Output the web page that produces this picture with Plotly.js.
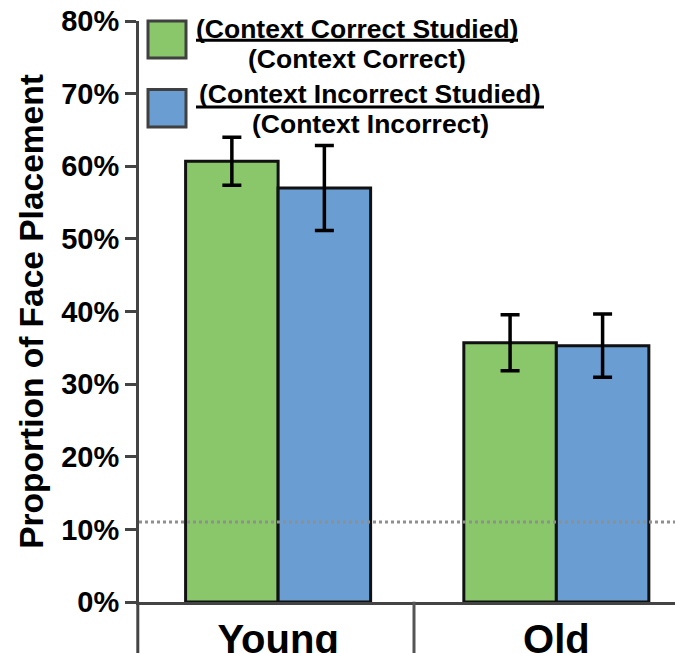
<!DOCTYPE html>
<html>
<head>
<meta charset="utf-8">
<script src="https://cdn.plot.ly/plotly-3.0.1.min.js"></script>
<style>
  html, body { margin: 0; padding: 0; background: #fff; overflow: hidden; }
  #chart { width: 675px; height: 653px; }
</style>
</head>
<body>
<div id="chart"></div>
<script>
// Age groups on the x axis
const categories = ['Young', 'Old'];

// Proportion of face placement per condition, with error bar half-widths
const correctValues = [0.607, 0.357];
const correctErrors = [0.033, 0.0385];
const incorrectValues = [0.570, 0.353];
const incorrectErrors = [0.0585, 0.0435];

// Chance level reference line
const chanceLevel = 0.11;

// Y axis ticks
const yTickValues = [0, 0.1, 0.2, 0.3, 0.4, 0.5, 0.6, 0.7, 0.8];

// Legend labels, drawn as a fraction (numerator over denominator)
const legendNumerators = ['(Context Correct Studied)', '(Context Incorrect Studied)'];
const legendDenominators = ['(Context Correct)', '(Context Incorrect)'];

const GREEN = '#89C76A';
const BLUE = '#6A9DD1';
const AXIS = '#444444';
const FONT = 'Liberation Sans, Arial, Helvetica, sans-serif';

// Figure geometry (pixels)
const W = 675, H = 653;
const M = { l: 139, r: 0, t: 20.7, b: 50.7 };
const px = p => (p - M.l) / (W - M.l - M.r);        // pixel x -> paper x
const py = p => (H - M.b - p) / (H - M.t - M.b);    // pixel y -> paper y

const traces = [
  {
    type: 'bar', x: categories, y: correctValues, name: legendDenominators[0],
    marker: { color: GREEN, line: { color: '#111', width: 3 } },
    error_y: { type: 'data', array: correctErrors, visible: true, color: '#000', thickness: 3.5, width: 9.5 }
  },
  {
    type: 'bar', x: categories, y: incorrectValues, name: legendDenominators[1],
    marker: { color: BLUE, line: { color: '#111', width: 3 } },
    error_y: { type: 'data', array: incorrectErrors, visible: true, color: '#000', thickness: 3.5, width: 9.5 }
  }
];

// Custom fraction-style legend
const legendItems = [
  { color: GREEN, box: [20.7, 57.7], center: 357, num: 28.3, den: 59, under: 40, underX: [196, 518] },
  { color: BLUE, box: [89.3, 126.7], center: 370, num: 93.3, den: 124, under: 106.7, underX: [196, 544] }
];

const shapes = [
  // chance level
  { type: 'line', xref: 'paper', yref: 'y', x0: 0, x1: 1, y0: chanceLevel, y1: chanceLevel,
    line: { color: '#8f8f8f', width: 3, dash: 'dot' }, layer: 'above' },
  // category dividers below the x axis
  { type: 'line', xref: 'paper', yref: 'paper', x0: px(137.8), x1: px(137.8), y0: py(602), y1: py(660),
    line: { color: AXIS, width: 3 } },
  { type: 'line', xref: 'paper', yref: 'paper', x0: px(414), x1: px(414), y0: py(602), y1: py(660),
    line: { color: '#555', width: 3 } }
];
const annotations = [];

legendItems.forEach((it, i) => {
  shapes.push({ type: 'rect', xref: 'paper', yref: 'paper',
    x0: px(148), x1: px(186), y0: py(it.box[1]), y1: py(it.box[0]),
    fillcolor: it.color, line: { color: '#404040', width: 3 } });
  shapes.push({ type: 'line', xref: 'paper', yref: 'paper',
    x0: px(it.underX[0]), x1: px(it.underX[1]), y0: py(it.under), y1: py(it.under),
    line: { color: '#000', width: 3 } });
  annotations.push({ xref: 'paper', yref: 'paper', x: px(it.center), y: py(it.num),
    xanchor: 'center', yanchor: 'middle', showarrow: false, text: legendNumerators[i],
    font: { family: FONT, size: 26.5, color: '#000', weight: 'bold' } });
  annotations.push({ xref: 'paper', yref: 'paper', x: px(it.center), y: py(it.den),
    xanchor: 'center', yanchor: 'middle', showarrow: false, text: legendDenominators[i],
    font: { family: FONT, size: 26.5, color: '#000', weight: 'bold' } });
});

const layout = {
  width: W, height: H,
  margin: M,
  paper_bgcolor: '#fff', plot_bgcolor: '#fff',
  showlegend: false,
  barmode: 'group', bargap: 0.335, bargroupgap: 0,
  font: { family: FONT, color: '#000' },
  xaxis: {
    type: 'category', range: [-0.5, 1.4265],
    showline: true, linecolor: AXIS, linewidth: 3,
    ticks: '', showgrid: false, zeroline: false,
    tickfont: { family: FONT, size: 40, color: '#000', weight: 'bold' }
  },
  yaxis: {
    range: [0, 0.8], tickvals: yTickValues, tickformat: '.0%',
    showline: true, linecolor: AXIS, linewidth: 3,
    ticks: 'outside', ticklen: 11, tickwidth: 3, tickcolor: AXIS,
    showgrid: false, zeroline: false,
    tickfont: { family: FONT, size: 29, color: '#000', weight: 'bold' },
    title: { text: 'Proportion of Face Placement', standoff: 8,
      font: { family: FONT, size: 33.5, color: '#000', weight: 'bold' } }
  },
  shapes: shapes,
  annotations: annotations
};

Plotly.newPlot('chart', traces, layout, { displayModeBar: false, staticPlot: true });
</script>
</body>
</html>
